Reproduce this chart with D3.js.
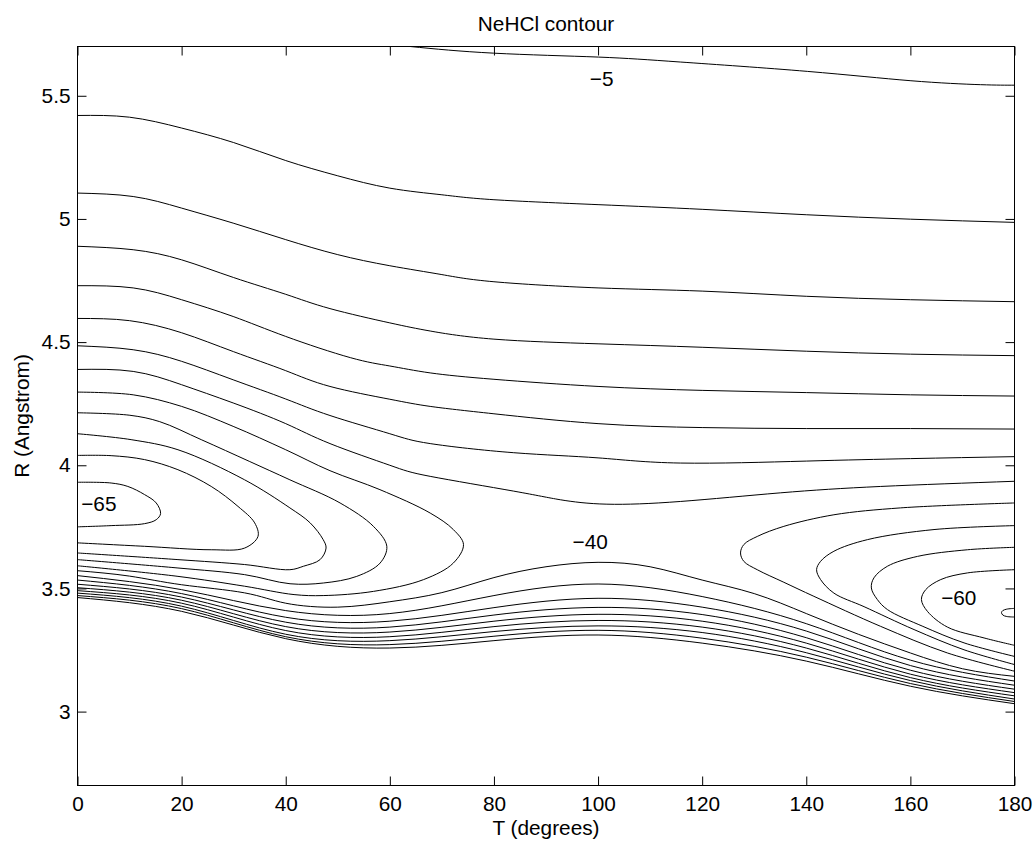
<!DOCTYPE html>
<html><head><meta charset="utf-8">
<script src="https://cdn.jsdelivr.net/npm/d3@7"></script>
<style>
body{margin:0;background:#fff}
text{font-family:"Liberation Sans",Arial,Helvetica,sans-serif;fill:#000}
</style>
</head><body><svg id="chart" width="1035" height="843"></svg>
<script>
const titleText = "NeHCl contour";
const xLabelText = "T (degrees)";
const yLabelText = "R (Angstrom)";
const xDomain = [0, 180];
const yDomain = [2.7, 5.7];
const xTicks = [0, 20, 40, 60, 80, 100, 120, 140, 160, 180];
const yTicks = [3, 3.5, 4, 4.5, 5, 5.5];
const yTickLabels = ["3", "3.5", "4", "4.5", "5", "5.5"];

// open contour lines: [T (deg), R (Angstrom)]
const c_m5 = [[63.9,5.700],[79.9,5.673],[100.1,5.657],[115.8,5.637],[140.2,5.599],[160.1,5.561],[173.5,5.545],[180,5.543]];
const c_m10 = [[0,5.420],[10,5.413],[20,5.369],[30,5.310],[40,5.237],[50,5.175],[60,5.125],[70,5.098],[80,5.078],[100,5.058],[120,5.039],[140,5.017],[160,4.999],[180,4.986]];
const c_m15 = [[0,5.105],[10.7,5.091],[20,5.044],[29.9,4.983],[40,4.916],[50,4.855],[60,4.810],[70,4.774],[80,4.745],[100,4.720],[120,4.707],[140,4.686],[160,4.672],[180,4.664]];
const c_m20 = [[0,4.889],[10.7,4.875],[20,4.834],[30,4.762],[40,4.694],[48.5,4.636],[60,4.578],[67.75,4.545],[80,4.512],[100,4.493],[120,4.479],[140,4.463],[160,4.451],[180,4.445]];
const c_m25 = [[0,4.729],[10.7,4.720],[20,4.672],[29.9,4.604],[40,4.523],[52.4,4.437],[60,4.403],[67.75,4.375],[80,4.349],[100,4.320],[120,4.304],[140,4.295],[160,4.286],[180,4.281]];
const c_m30 = [[0,4.596],[10,4.587],[20,4.538],[30,4.461],[40,4.384],[48.5,4.320],[60,4.268],[67.75,4.239],[80,4.209],[100,4.169],[120,4.153],[140,4.149],[160,4.149],[180,4.147]];
const c_m35 = [[0,4.485],[10.7,4.469],[20,4.422],[29.9,4.347],[40,4.269],[48.5,4.202],[60,4.128],[67.75,4.088],[83.8,4.051],[100,4.030],[115.8,4.009],[140,4.017],[160,4.027],[180,4.035]];
const c_m40u = [[0,4.389],[10.7,4.381],[20,4.327],[29.9,4.253],[40,4.169],[48.5,4.088],[60,4.000],[67.75,3.955],[83.8,3.895],[92.75,3.860],[101.7,3.842],[115.8,3.853],[135,3.888],[154.3,3.914],[180,3.935]];
const c_m40l = [[0,3.572],[10,3.550],[20,3.515],[32.1,3.482],[40,3.440],[50,3.424],[60,3.446],[70,3.483],[80,3.544],[90,3.588],[100,3.606],[110,3.588],[120,3.534],[130,3.479],[140,3.398],[150,3.314],[160,3.238],[170,3.174],[180,3.143]];
const c_m35l = [[0,3.552],[20,3.495],[40,3.410],[60,3.398],[80,3.471],[100,3.518],[120,3.467],[140,3.357],[160,3.209],[180,3.124]];
const c_m30l = [[0,3.534],[20,3.479],[40,3.383],[60,3.367],[80,3.422],[100,3.460],[120,3.424],[140,3.327],[160,3.187],[180,3.107]];
const c_m25l = [[0,3.517],[20,3.465],[40,3.363],[60,3.343],[80,3.392],[100,3.423],[120,3.394],[140,3.300],[160,3.168],[180,3.091]];
const c_m20l = [[0,3.503],[20,3.452],[40,3.345],[60,3.323],[80,3.367],[100,3.395],[120,3.367],[140,3.278],[160,3.152],[180,3.077]];
const c_m15l = [[0,3.491],[20,3.440],[40,3.329],[60,3.304],[80,3.345],[100,3.370],[120,3.343],[140,3.258],[160,3.138],[180,3.064]];
const c_m10l = [[0,3.481],[20,3.428],[40,3.314],[60,3.288],[80,3.325],[100,3.348],[120,3.321],[140,3.239],[160,3.126],[180,3.051]];
const c_m5l = [[0,3.471],[20,3.418],[40,3.304],[60,3.272],[80,3.306],[100,3.330],[120,3.298],[140,3.221],[160,3.114],[180,3.041]];
const c_0l = [[0,3.463],[20,3.407],[40,3.296],[60,3.258],[80,3.288],[100,3.311],[120,3.278],[140,3.205],[160,3.103],[180,3.032]];
// closed curves around the T=0 minimum
const c_m45a = [[0,4.297],[10.7,4.286],[20,4.239],[29.9,4.158],[40,4.063],[48.5,3.978],[58.1,3.901],[67.75,3.806],[72.2,3.739],[74.15,3.678],[72.2,3.603],[66.5,3.536],[56.85,3.488],[47.2,3.471],[41.6,3.475],[32.1,3.509],[19.3,3.549],[0,3.592]];
const c_m50a = [[0,4.213],[10.06,4.203],[15.8,4.177],[23.77,4.104],[33.1,4.015],[40.8,3.941],[50.44,3.847],[56.85,3.752],[59.42,3.671],[58.13,3.603],[53.65,3.549],[47.23,3.522],[40.83,3.519],[32.1,3.556],[19.3,3.583],[0,3.617]];
const c_m55a = [[0,4.128],[10.3,4.104],[19.3,4.063],[32.1,3.941],[40.8,3.827],[44.7,3.766],[47.2,3.698],[47.75,3.664],[46.6,3.617],[43.4,3.590],[40.8,3.576],[32.1,3.597],[19.3,3.617],[0,3.644]];
const c_m60a = [[0,4.040],[6.46,4.039],[12.88,4.023],[19.29,3.982],[25.69,3.914],[30.83,3.833],[34.04,3.766],[34.67,3.711],[32.12,3.664],[25.69,3.657],[12.88,3.671],[0,3.685]];
const c_m65a = [[0,3.931],[6.46,3.928],[9.67,3.914],[12.88,3.881],[15.12,3.847],[15.96,3.804],[15.12,3.779],[12.88,3.763],[6.46,3.755],[0,3.750]];
// closed curves around the T=180 minimum
const c_m45b = [[180,3.847],[158.13,3.827],[145.31,3.799],[135.69,3.752],[130.58,3.711],[128,3.678],[127.37,3.644],[128,3.610],[130.58,3.576],[135.69,3.525],[141.46,3.468],[154.29,3.346],[167.12,3.238],[180,3.164]];
const c_m50b = [[180,3.755],[164.54,3.739],[151.73,3.698],[145.31,3.651],[142.75,3.610],[141.98,3.576],[142.75,3.536],[145.31,3.481],[151.1,3.426],[160.7,3.333],[170.3,3.251],[180,3.191]];
const c_m55b = [[180,3.667],[170.96,3.657],[161.35,3.630],[155.58,3.590],[153,3.543],[152.5,3.502],[153.65,3.455],[155.6,3.414],[162.4,3.346],[170.31,3.279],[180,3.224]];
const c_m60b = [[180,3.576],[170.96,3.563],[165.83,3.536],[162.94,3.495],[162.12,3.455],[163.27,3.407],[167.12,3.343],[174.15,3.299],[180,3.269]];
const c_m65b = [[180,3.419],[178.52,3.416],[177.75,3.410],[177.5,3.402],[177.75,3.392],[178.52,3.386],[180,3.384]];

const openLines = [c_m5, c_m10, c_m15, c_m20, c_m25, c_m30, c_m35, c_m40u, c_m40l,
  c_m35l, c_m30l, c_m25l, c_m20l, c_m15l, c_m10l, c_m5l, c_0l];
const closedLines = [c_m45a, c_m50a, c_m55a, c_m60a, c_m65a, c_m45b, c_m50b, c_m55b, c_m60b, c_m65b];

// contour labels
const labelTexts = ["\u22125", "\u221240", "\u221265", "\u221260"];
const labelT = [100.7, 98.5, 4.1, 169.3];
const labelR = [5.568, 3.692, 3.846, 3.461];

const FS = 20.8;
const svg = d3.select("#chart");
const x = d3.scaleLinear().domain(xDomain).range([77.5, 1014.5]);
const y = d3.scaleLinear().domain(yDomain).range([785.5, 46.5]);

svg.append("rect").attr("width", 1035).attr("height", 843).attr("fill", "#fff");

svg.append("defs").append("clipPath").attr("id", "plotclip").append("rect")
  .attr("x", x(0)).attr("y", y(5.7)).attr("width", x(180) - x(0)).attr("height", y(2.7) - y(5.7));

const openLine = d3.line().x(d => x(d[0])).y(d => y(d[1])).curve(d3.curveNatural);
const loopLine = d3.line().x(d => x(d[0])).y(d => y(d[1])).curve(d3.curveCatmullRom.alpha(0.5));

const cg = svg.append("g").attr("clip-path", "url(#plotclip)")
  .attr("fill", "none").attr("stroke", "#000").attr("stroke-width", 1);
cg.selectAll("path.open").data(openLines).join("path").attr("class", "open").attr("d", openLine);
cg.selectAll("path.loop").data(closedLines).join("path").attr("class", "loop").attr("d", loopLine);

const labG = svg.append("g");
labelTexts.forEach((t, i) => {
  labG.append("text").attr("x", x(labelT[i])).attr("y", y(labelR[i]) + 0.358 * FS)
    .attr("text-anchor", "middle").attr("font-size", FS).text(t);
});

function styleAxis(g) {
  g.select(".domain").remove();
  g.selectAll(".tick line").attr("stroke", "#000").attr("stroke-width", 1);
  g.selectAll(".tick text").attr("font-size", FS).attr("fill", "#000")
    .attr("font-family", '"Liberation Sans",Arial,Helvetica,sans-serif');
}

svg.append("g").attr("transform", `translate(0,${y(2.7)})`)
  .call(d3.axisBottom(x).tickValues(xTicks).tickFormat(d3.format("d")).tickSizeInner(-9).tickSizeOuter(0).tickPadding(11))
  .call(styleAxis);
svg.append("g").attr("transform", `translate(0,${y(5.7)})`)
  .call(d3.axisTop(x).tickValues(xTicks).tickFormat(() => "").tickSizeInner(-9).tickSizeOuter(0))
  .call(styleAxis);
svg.append("g").attr("transform", `translate(${x(0)},0)`)
  .call(d3.axisLeft(y).tickValues(yTicks).tickFormat((d, i) => yTickLabels[i]).tickSizeInner(-9).tickSizeOuter(0).tickPadding(7))
  .call(styleAxis);
svg.append("g").attr("transform", `translate(${x(180)},0)`)
  .call(d3.axisRight(y).tickValues(yTicks).tickFormat(() => "").tickSizeInner(-9).tickSizeOuter(0))
  .call(styleAxis);

svg.append("rect").attr("x", x(0)).attr("y", y(5.7))
  .attr("width", x(180) - x(0)).attr("height", y(2.7) - y(5.7))
  .attr("fill", "none").attr("stroke", "#000").attr("stroke-width", 1);

svg.append("text").attr("x", (x(0) + x(180)) / 2).attr("y", 30.5)
  .attr("text-anchor", "middle").attr("font-size", FS).text(titleText);
svg.append("text").attr("x", (x(0) + x(180)) / 2).attr("y", 835)
  .attr("text-anchor", "middle").attr("font-size", FS).text(xLabelText);
svg.append("text").attr("transform", `translate(28.5,${(y(2.7) + y(5.7)) / 2}) rotate(-90)`)
  .attr("text-anchor", "middle").attr("font-size", FS).text(yLabelText);
</script>
</body></html>
